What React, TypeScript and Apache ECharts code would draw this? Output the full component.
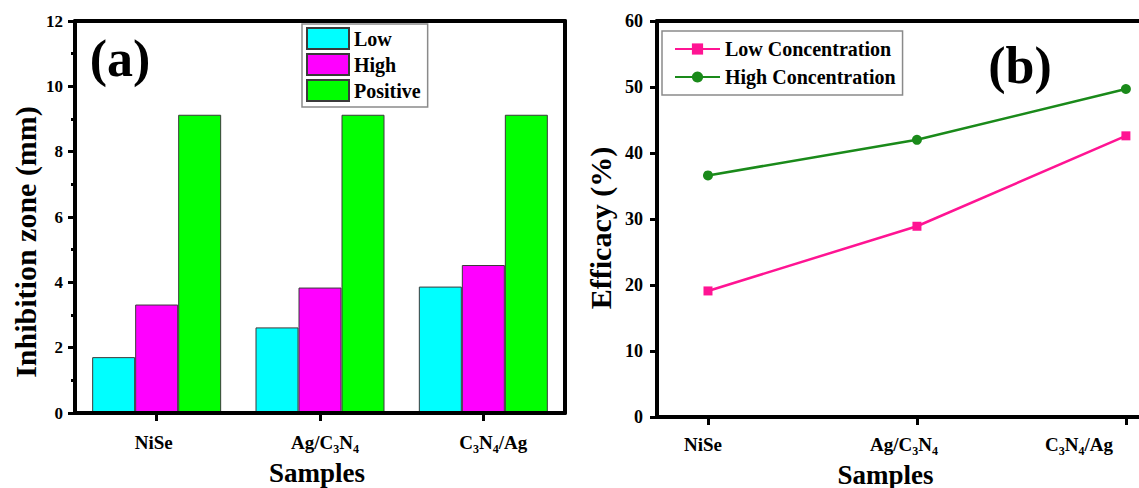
import React, { useEffect, useRef } from "react";
import * as echarts from "echarts";

const categories = ["NiSe", "Ag/C3N4", "C3N4/Ag"];
const lowZone = [1.71, 2.62, 3.87];
const highZone = [3.32, 3.84, 4.53];
const positiveZone = [9.13, 9.13, 9.13];
const lowEfficacy = [19.1, 28.9, 42.6];
const highEfficacy = [36.6, 42.0, 49.7];
const zoneSeriesNames = ["Low", "High", "Positive"];
const efficacySeriesNames = ["Low Concentration", "High Concentration"];
const samplePositions = [1, 2, 3];

const FONT = '"Liberation Serif", "Times New Roman", serif';
const BLACK = "#000";

function buildRich(shifts: number[], fontSize: number) {
  const base = { fontFamily: FONT, fontWeight: "bold", fontSize, color: BLACK, lineHeight: 26 };
  const sub = { fontFamily: FONT, fontWeight: "bold", fontSize: 12, color: BLACK, lineHeight: 8, verticalAlign: "bottom" };
  const rich: Record<string, any> = { n: { ...base }, s: { ...sub } };
  shifts.forEach((sh, i) => {
    const p = Math.abs(sh) * 2;
    const padFirst = sh > 0 ? [0, 0, 0, p] : [0, 0, 0, 0];
    const padLast = sh < 0 ? [0, p, 0, 0] : [0, 0, 0, 0];
    rich[`nf${i}`] = { ...base, padding: padFirst };
    rich[`sf${i}`] = { ...sub, padding: padFirst };
    rich[`nl${i}`] = { ...base, padding: padLast };
    rich[`sl${i}`] = { ...sub, padding: padLast };
  });
  return rich;
}

function formatName(name: string, i: number) {
  const parts = name.split(/(\d)/).filter((p) => p !== "");
  return parts
    .map((p, k) => {
      const isSub = /^\d$/.test(p);
      let style = isSub ? "s" : "n";
      if (k === parts.length - 1) style = (isSub ? "sl" : "nl") + i;
      else if (k === 0) style = (isSub ? "sf" : "nf") + i;
      return `{${style}|${p}}`;
    })
    .join("");
}

const leftShifts = [-3, 5, 10];
const rightShifts = [-5, -13, -47];

const mkLine = () => ({ show: true, onZero: false, lineStyle: { color: BLACK, width: 4 } });
const mkTick = (len: number) => ({ show: true, length: len, lineStyle: { color: BLACK, width: 3 } });
const labelFont = () => ({ fontFamily: FONT, fontWeight: "bold", color: BLACK });

const leftGrid = { left: 75, top: 21, width: 490, height: 392, show: false, outerBoundsMode: "none" };
const leftXRange = [0.5, 3.5];
const leftYRange = [0, 12];

function frameAxis(position: string) {
  return {
    type: "value",
    gridIndex: 0,
    position,
    min: 0,
    max: 1,
    axisLine: mkLine(),
    axisTick: { show: false },
    axisLabel: { show: false },
    splitLine: { show: false },
  };
}

function hiddenAxis(min: number, max: number) {
  return { type: "value", gridIndex: 0, min, max, show: false };
}

function sampleLabels(margin: number, shifts: number[]) {
  return {
    margin,
    customValues: samplePositions,
    formatter: (v: number) => {
      const i = Math.round(v) - 1;
      return formatName(categories[i], i);
    },
    rich: buildRich(shifts, 19),
  };
}

function sampleName(nameGap: number, namePad: number) {
  return {
    name: "Samples",
    nameLocation: "middle",
    nameGap,
    nameTextStyle: { ...labelFont(), fontSize: 27, padding: [0, namePad, 0, 0] },
  };
}

// Layer A: bars + legend (scales identical to the axis layers, axes hidden)
function leftBarsOption(): any {
  return {
    animation: false,
    grid: [{ ...leftGrid }],
    xAxis: [hiddenAxis(leftXRange[0], leftXRange[1])],
    yAxis: [hiddenAxis(leftYRange[0], leftYRange[1])],
    legend: {
      data: zoneSeriesNames,
      orient: "vertical",
      left: 302,
      top: 24,
      itemWidth: 42,
      itemHeight: 21,
      itemGap: 3,
      padding: [3, 7, 5, 4],
      borderColor: "#8a8a8a",
      borderWidth: 1.5,
      icon: "rect",
      textStyle: { ...labelFont(), fontSize: 20, lineHeight: 21 },
    },
    series: [
      { data: lowZone, color: "#00FFFF" },
      { data: highZone, color: "#FF00FF" },
      { data: positiveZone, color: "#00FF00" },
    ].map((s, k) => ({
      name: zoneSeriesNames[k],
      type: "bar",
      data: s.data.map((v, i) => [samplePositions[i], v]),
      barGap: "0%",
      barWidth: 43,
      itemStyle: { color: s.color, borderColor: "#3a3a3a", borderWidth: 1 },
    })),
  };
}

// Layer D: minor ticks of the left value axis
function leftMinorOption(): any {
  return {
    animation: false,
    grid: [{ ...leftGrid }],
    xAxis: [hiddenAxis(leftXRange[0], leftXRange[1])],
    yAxis: [
      {
        type: "value",
        gridIndex: 0,
        min: leftYRange[0],
        max: leftYRange[1],
        interval: 1,
        axisLine: { show: false },
        axisTick: mkTick(4),
        axisLabel: { show: false },
        splitLine: { show: false },
      },
    ],
  };
}

// Layer B: value axis, frame, bottom axis line and ticks, titles
function leftAxesOption(): any {
  return {
    animation: false,
    grid: [{ ...leftGrid }],
    xAxis: [
      {
        type: "value",
        gridIndex: 0,
        min: leftXRange[0],
        max: leftXRange[1],
        position: "bottom",
        axisLine: mkLine(),
        axisTick: { ...mkTick(8), customValues: samplePositions },
        axisLabel: { show: false },
        splitLine: { show: false },
      },
      frameAxis("top"),
    ],
    yAxis: [
      {
        type: "value",
        gridIndex: 0,
        min: leftYRange[0],
        max: leftYRange[1],
        interval: 2,
        axisLine: { show: true, onZero: false, lineStyle: { color: BLACK, width: 4 } },
        axisTick: { show: true, length: 7, lineStyle: { color: BLACK, width: 3 } },
        axisLabel: { fontFamily: FONT, fontWeight: "bold", color: BLACK, fontSize: 17, margin: 12 },
        splitLine: { show: false },
      },
      frameAxis("right"),
    ],
    graphic: [
      {
        type: "text",
        x: 120,
        y: 58,
        style: { text: "(a)", font: `bold 52px ${FONT}`, fill: BLACK, align: "center", verticalAlign: "middle" },
      },
      {
        type: "text",
        x: 25,
        y: 242,
        rotation: Math.PI / 2,
        style: { text: "Inhibition zone (mm)", font: `bold 30px ${FONT}`, fill: BLACK, align: "center", verticalAlign: "middle" },
      },
    ],
  };
}

// Layer C: category labels and axis name
function leftLabelsOption(): any {
  return {
    animation: false,
    grid: [{ ...leftGrid }],
    xAxis: [
      {
        type: "value",
        gridIndex: 0,
        min: leftXRange[0],
        max: leftXRange[1],
        position: "bottom",
        axisLine: { show: false },
        axisTick: { show: false },
        axisLabel: sampleLabels(16, leftShifts),
        splitLine: { show: false },
        ...sampleName(46, 6),
      },
    ],
    yAxis: [hiddenAxis(leftYRange[0], leftYRange[1])],
  };
}

function rightOption(): any {
  return {
    animation: false,
    grid: [{ left: 87, top: 21, width: 485, height: 396, show: false, outerBoundsMode: "none" }],
    xAxis: [
      {
        type: "value",
        gridIndex: 0,
        min: 0.756,
        max: 3.077,
        position: "bottom",
        axisLine: mkLine(),
        axisTick: { ...mkTick(8), customValues: samplePositions },
        axisLabel: sampleLabels(14, rightShifts),
        splitLine: { show: false },
        ...sampleName(39, 28),
      },
      frameAxis("top"),
    ],
    yAxis: [
      {
        type: "value",
        gridIndex: 0,
        min: 0,
        max: 60,
        interval: 10,
        position: "left",
        axisLine: mkLine(),
        axisTick: mkTick(7),
        axisLabel: { ...labelFont(), fontSize: 18, margin: 14 },
        splitLine: { show: false },
      },
      frameAxis("right"),
    ],
    legend: {
      data: efficacySeriesNames,
      orient: "vertical",
      left: 92,
      top: 31,
      itemWidth: 45,
      itemHeight: 14,
      itemGap: 8,
      padding: [8, 7, 8, 12],
      borderColor: "#8a8a8a",
      borderWidth: 1.5,
      textStyle: { ...labelFont(), fontSize: 20, lineHeight: 20 },
    },
    series: [
      {
        name: efficacySeriesNames[0],
        type: "line",
        xAxisIndex: 0,
        yAxisIndex: 0,
        data: lowEfficacy.map((v, i) => [samplePositions[i], v]),
        symbol: "rect",
        symbolSize: 9,
        lineStyle: { color: "#FF1493", width: 2.5 },
        itemStyle: { color: "#FF1493" },
      },
      {
        name: efficacySeriesNames[1],
        type: "line",
        xAxisIndex: 0,
        yAxisIndex: 0,
        data: highEfficacy.map((v, i) => [samplePositions[i], v]),
        symbol: "circle",
        symbolSize: 10,
        lineStyle: { color: "#1A8A1A", width: 2.5 },
        itemStyle: { color: "#1A8A1A" },
      },
    ],
    graphic: [
      {
        type: "text",
        x: 450,
        y: 65,
        style: { text: "(b)", font: `bold 52px ${FONT}`, fill: BLACK, align: "center", verticalAlign: "middle" },
      },
      {
        type: "text",
        x: 30,
        y: 228,
        rotation: Math.PI / 2,
        style: { text: "Efficacy (%)", font: `bold 30px ${FONT}`, fill: BLACK, align: "center", verticalAlign: "middle" },
      },
    ],
  };
}

const layerStyle = (z: number): React.CSSProperties => ({
  position: "absolute",
  left: 0,
  top: 0,
  width: 570,
  height: 488,
  pointerEvents: z > 0 ? "none" : "auto",
  zIndex: z,
});

export default function App() {
  const barsRef = useRef<HTMLDivElement>(null);
  const minorRef = useRef<HTMLDivElement>(null);
  const axesRef = useRef<HTMLDivElement>(null);
  const labelsRef = useRef<HTMLDivElement>(null);
  const rightRef = useRef<HTMLDivElement>(null);
  useEffect(() => {
    document.body.style.margin = "0";
    const pairs: [HTMLDivElement, () => any][] = [
      [barsRef.current!, leftBarsOption],
      [minorRef.current!, leftMinorOption],
      [axesRef.current!, leftAxesOption],
      [labelsRef.current!, leftLabelsOption],
      [rightRef.current!, rightOption],
    ];
    const charts = pairs.map(([el, make]) => {
      const c = echarts.init(el, null, { renderer: "svg" });
      c.setOption(make());
      return c;
    });
    return () => charts.forEach((c) => c.dispose());
  }, []);
  return (
    <div style={{ position: "relative", width: 1139, height: 488, background: "#fff", overflow: "hidden" }}>
      <div ref={barsRef} style={layerStyle(0)} />
      <div ref={minorRef} style={layerStyle(1)} />
      <div ref={axesRef} style={layerStyle(2)} />
      <div ref={labelsRef} style={layerStyle(3)} />
      <div ref={rightRef} style={{ position: "absolute", left: 570, top: 0, width: 569, height: 488 }} />
    </div>
  );
}
